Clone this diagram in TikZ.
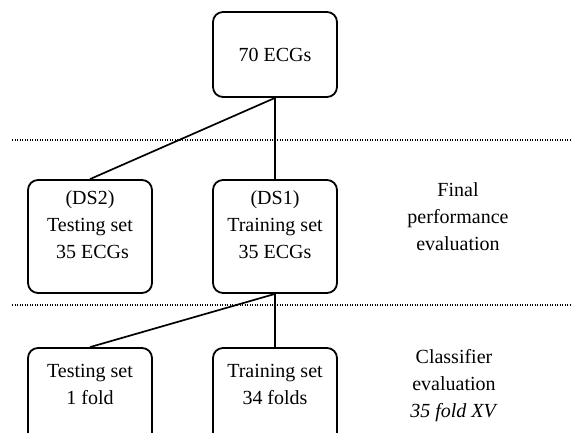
\documentclass[tikz,border=0pt]{standalone}
\usepackage{fontspec}
\setmainfont{Liberation Serif}
\begin{document}
\begin{tikzpicture}[x=1pt,y=-1pt,
  box/.style={draw, line width=1.8pt, rounded corners=10pt, minimum width=124pt, inner sep=0pt},
  lbl/.style={align=center, inner sep=0pt, font=\fontsize{20}{27}\selectfont},
  conn/.style={line width=1.7pt},
  sepline/.style={line width=1.2pt, dash pattern=on 1.2pt off 1.3pt}]
\useasboundingbox (0,0) rectangle (571,432);
\clip (0,0) rectangle (571,432);
% boxes
\node[box, minimum height=85pt] (top) at (275,54.5) {};
\node[box, minimum height=113pt] (ds2) at (90,236.5) {};
\node[box, minimum height=113pt] (ds1) at (275,236.5) {};
\node[box, minimum height=113pt] (test) at (90,404.5) {};
\node[box, minimum height=113pt] (train) at (275,404.5) {};
% texts
\node[lbl] (ttop) at (275,55) {70 ECGs};
\node[lbl] (tds2) at (90,225) {(DS2)\\Testing set\\\hspace*{5pt}35 ECGs};
\node[lbl] (tds1) at (275,225) {(DS1)\\Training set\\35 ECGs};
\node[lbl] (ttest) at (90,384.5) {Testing set\\1 fold};
\node[lbl] (ttrain) at (275,384.5) {Training set\\34 folds};
\node[lbl] (tfinal) at (458,217) {Final\\performance\\evaluation};
\node[lbl] (tclass) at (454,386) {Classifier\\evaluation\\\textit{35 fold XV}};
% separators
\coordinate (s1a) at (12,140);
\coordinate (s1b) at (571,140);
\coordinate (s2a) at (12,305);
\coordinate (s2b) at (571,305);
\draw[sepline] (s1a) -- (s1b);
\draw[sepline] (s2a) -- (s2b);
% connectors
\draw[conn] (top.south) -- (ds2.north);
\draw[conn] (top.south) -- (ds1.north);
\draw[conn] (ds1.south) -- (test.north);
\draw[conn] (ds1.south) -- (train.north);
\end{tikzpicture}
\end{document}
